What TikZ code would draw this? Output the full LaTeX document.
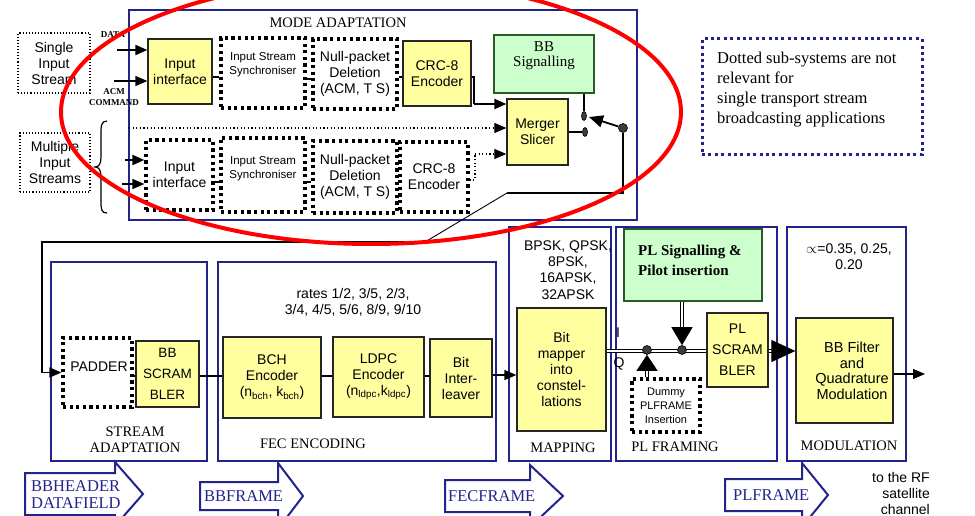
\documentclass[tikz,border=0pt]{standalone}
\usepackage{fontspec}
\setmainfont{Liberation Serif}
\newfontfamily\arialfont{Liberation Sans}
\usetikzlibrary{arrows.meta,shapes.geometric}

\definecolor{navy}{RGB}{35,35,140}
\definecolor{ylw}{RGB}{255,255,160}
\definecolor{grn}{RGB}{204,255,204}
\definecolor{gborder}{RGB}{40,90,40}
\definecolor{dotgray}{RGB}{60,60,60}

\begin{document}
\begin{tikzpicture}[x=1pt,y=-1pt,
  sans/.style={font=\arialfont\fontsize{14}{16}\selectfont, align=center, inner sep=0pt},
  sanssmall/.style={font=\arialfont\fontsize{11.5}{14}\selectfont, align=center, inner sep=0pt},
  lbl/.style={font=\fontsize{14.5}{16}\selectfont, align=center, inner sep=0pt},
  tinylbl/.style={font=\bfseries\fontsize{9}{11}\selectfont, align=center, inner sep=0pt},
  ybox/.style={draw=black!85, fill=ylw, line width=1.3pt, inner sep=0pt},
  gbox/.style={draw=gborder, fill=grn, line width=1.3pt, inner sep=0pt},
  dbox/.style={draw=black, line width=3.2pt, dash pattern=on 3.2pt off 3.4pt, inner sep=0pt},
  thindot/.style={draw=black, line width=1.1pt, dash pattern=on 1.1pt off 2pt, inner sep=0pt},
  finedot/.style={line width=1.1pt, dash pattern=on 1.1pt off 2.5pt},
  stage/.style={draw=navy, line width=1.5pt, inner sep=0pt},
  wire/.style={line width=1.3pt},
  arr/.style={-{Triangle[length=12pt,width=10pt]}},
  contact/.style={ellipse, fill=dotgray, draw=black, line width=0.6pt, minimum width=5pt, minimum height=9pt, inner sep=0pt},
  jdot/.style={circle, fill=dotgray, draw=black, line width=0.6pt, minimum size=9pt, inner sep=0pt},
  dbl/.style={draw=black, double=white, double distance=2.4pt, line width=1.1pt},
  blockarrow/.style={draw=navy, fill=white, line width=2pt, line join=miter},
  arrowtext/.style={text=navy, font=\fontsize{16.5}{17.5}\selectfont, align=left, inner sep=0pt, anchor=west}
]
\clip (0,0) rectangle (975,516);
\fill[white] (0,0) rectangle (975,516);

% ---------------- mode adaptation ----------------
\node[stage, minimum width=508pt, minimum height=210pt] (modebox) at (383,115) {};
\node[lbl] (modetitle) at (338,23) {MODE ADAPTATION};

\node[thindot, sans, minimum width=72pt, minimum height=60pt] (single) at (54,63) {Single\\Input\\Stream};
\node[thindot, sans, minimum width=70pt, minimum height=59pt] (multi) at (55,162.5) {Multiple\\Input\\Streams};

\node[tinylbl] (datalbl) at (113,35) {DATA};
\node[tinylbl] (acmlbl) at (114,97) {ACM\\COMMAND};

% single stream chain
\node[ybox, sans, minimum width=64pt, minimum height=65pt] (in1) at (180,71.5) {Input\\interface};
\node[dbox, minimum width=84pt, minimum height=70pt] (sync1) at (263,73) {};
\node[sanssmall] (sync1t) at (263,65) {Input Stream\\Synchroniser};
\node[dbox, sans, minimum width=84pt, minimum height=70pt] (null1) at (355,74) {Null-packet\\Deletion\\(ACM, T S)};
\node[ybox, sans, minimum width=68pt, minimum height=65pt] (crc1) at (437,73.5) {CRC-8\\Encoder};
\node[gbox, minimum width=100pt, minimum height=58pt] (bbsig) at (544,64) {};
\node[lbl, font=\fontsize{15}{15}\selectfont] (bbsigt) at (544,56) {BB\\Signalling};
\node[ybox, sans, minimum width=61pt, minimum height=66pt] (merger) at (537.5,132) {Merger\\Slicer};

% multiple stream chain
\node[dbox, sans, minimum width=67pt, minimum height=70pt] (in2) at (179.5,175) {Input\\interface};
\node[dbox, minimum width=84pt, minimum height=74pt] (sync2) at (263,175) {};
\node[sanssmall] (sync2t) at (263,169) {Input Stream\\Synchroniser};
\node[dbox, sans, minimum width=84pt, minimum height=72pt] (null2) at (355,177) {Null-packet\\Deletion\\(ACM, T S)};
\node[dbox, sans, minimum width=68pt, minimum height=70pt] (crc2) at (434,177) {CRC-8\\Encoder};

% input arrows
\coordinate (datain) at (117,50);
\coordinate (acmin) at (114,81);
\coordinate (mul1) at (125,160);
\coordinate (mul2) at (122,184);
\draw[line width=2pt, arr] (datain) -- (in1.west |- datain);
\draw[wire, arr] (acmin) -- (in1.west |- acmin);
\draw[line width=2pt, arr] (mul1) -- (in2.west |- mul1);
\draw[wire, arr] (mul2) -- (in2.west |- mul2);

% brace grouping the multiple inputs
\draw[line width=1.2pt] (107,121) .. controls (101,121) and (101,126) .. (101,135) -- (101,157)
  .. controls (101,164) and (99,167) .. (95,167) .. controls (99,167) and (101,170) .. (101,177)
  -- (101,200) .. controls (101,209) and (101,213) .. (107,213);

% chain links
\coordinate (yA) at (0,77);
\coordinate (yA2) at (0,79);
\coordinate (yL) at (0,182);
\draw[wire] (in1.east |- yA) -- (sync1.west |- yA);
\draw[wire] (sync1.east |- yA2) -- (null1.west |- yA2);
\draw[wire] (null1.east |- yA) -- (crc1.west |- yA);
\draw[wire] (in2.east |- yL) -- (sync2.west |- yL);
\draw[wire] (sync2.east |- yL) -- (null2.west |- yL);
\draw[wire] (null2.east |- yL) -- (crc2.west |- yL);

% merger inputs
\coordinate (crcknee) at (474,104);
\coordinate (sepL) at (129,128);
\coordinate (yC) at (0,180);
\coordinate (crc2knee) at (475,154);
\draw[line width=2pt] (crc1.east |- yA) -| (crcknee);
\draw[line width=2pt, arr] (crcknee) -- (merger.west |- crcknee);
\draw[finedot, arr] (sepL) -- (merger.west |- sepL);
\draw[finedot] (crc2.east |- yC) -| (crc2knee);
\draw[finedot, arr] (crc2knee) -- (merger.west |- crc2knee);

% output switch
\node[contact] (c1) at (585,132) {};
\node[contact] (c2) at (584,116) {};
\node[jdot] (piv) at (623,128) {};
\coordinate (swtip) at (589,117);
\draw[wire] (merger.east |- c1) -- (c1);
\draw[wire] (bbsig.south -| c2) -- (c2);
\draw[line width=1.8pt, -{Triangle[length=14pt,width=12pt]}] (piv) -- (swtip);

% feed to the stream adaptation
\coordinate (k1) at (623,193);
\coordinate (k2) at (507,193);
\coordinate (k3) at (425,242);
\coordinate (k4) at (42,242);
\draw[line width=2pt] (piv) -- (k1) -- (k2);
\draw[line width=0.9pt] (k2) -- (k3);

% note
\node[draw=navy, line width=3pt, dash pattern=on 3pt off 3.4pt, minimum width=220pt, minimum height=116pt] (note) at (812,97) {};
\node[font=\fontsize{16.5}{20}\selectfont, align=left, anchor=west, inner sep=0pt] (notet) at (717,90)
  {Dotted sub-systems are not\\relevant for\\single transport stream\\broadcasting applications};

% ---------------- lower chain ----------------
\node[stage, minimum width=156pt, minimum height=199pt] (sabox) at (129,361.5) {};
\node[stage, minimum width=278pt, minimum height=199pt] (fecbox) at (357,361.5) {};
\node[stage, minimum width=102pt, minimum height=234pt] (mapbox) at (560,344) {};
\node[stage, minimum width=161pt, minimum height=234pt] (plfbox) at (696.5,344) {};
\node[stage, minimum width=119pt, minimum height=234pt] (modbox) at (846.5,344) {};

\node[lbl] (satitle) at (135,440) {STREAM\\ADAPTATION};
\node[lbl] (fectitle) at (313,444) {FEC ENCODING};
\node[lbl] (maptitle) at (563,448) {MAPPING};
\node[lbl] (plftitle) at (675,447) {PL FRAMING};
\node[lbl] (modtitle) at (849,446) {MODULATION};

\node[dbox, minimum width=69pt, minimum height=69pt] (padder) at (97.5,372.5) {};
\node[sans] (paddert) at (99,367) {PADDER};
\node[ybox, minimum width=63pt, minimum height=66pt, font=\arialfont\fontsize{13.5}{21}\selectfont, align=center] (bbscr) at (167.5,374) {BB\\SCRAM\\BLER};
\node[ybox, sans, minimum width=98pt, minimum height=81pt] (bch) at (272,377.5) {BCH\\Encoder\\(n\textsubscript{bch}, k\textsubscript{bch})};
\node[ybox, sans, minimum width=91pt, minimum height=80pt] (ldpc) at (378.5,377) {LDPC\\Encoder\\(n\textsubscript{ldpc},k\textsubscript{ldpc})};
\node[ybox, sans, minimum width=62pt, minimum height=78pt] (bil) at (461,378) {Bit\\Inter-\\leaver};
\node[ybox, sans, minimum width=89pt, minimum height=123pt] (mapper) at (561.5,369.5) {Bit\\mapper\\into\\constel-\\lations};
\node[gbox, minimum width=138pt, minimum height=72pt] (plsig) at (693,265) {};
\node[font=\bfseries\fontsize{15}{20}\selectfont, align=left, anchor=west, inner sep=0pt] (plsigt) at (638,260) {PL Signalling \&\\Pilot insertion};
\node[ybox, minimum width=61pt, minimum height=74pt, font=\arialfont\fontsize{14}{21}\selectfont, align=center] (plscr) at (737.5,350) {PL\\SCRAM\\BLER};
\node[dbox, minimum width=68pt, minimum height=53pt, font=\arialfont\fontsize{11}{14}\selectfont, align=center] (dummy) at (666,405.5) {Dummy\\PLFRAME\\Insertion};
\node[ybox, minimum width=97pt, minimum height=105pt] (bbf) at (844.5,370.5) {};
\node[sans, font=\arialfont\fontsize{14.5}{15.5}\selectfont] (bbft) at (852,371) {BB Filter\\and\\Quadrature\\Modulation};

\node[sans] (ratest) at (353,302) {rates 1/2, 3/5, 2/3,\\3/4, 4/5, 5/6, 8/9, 9/10};
\node[sans, font=\arialfont\fontsize{14}{16.3}\selectfont] (constt) at (568,270) {BPSK, QPSK,\\8PSK,\\16APSK,\\32APSK};
\node[sans] (rolloff) at (849,257) {$\propto$=0.35, 0.25,\\0.20};
\node[sans] (ilbl) at (618,333) {I};
\node[sans] (qlbl) at (619,364) {Q};
\node[sans, align=right, anchor=east] (rft) at (930,493) {to the RF\\satellite\\channel};

% links of the lower chain
\coordinate (yM) at (0,376);
\coordinate (yM2) at (0,375);
\coordinate (yIQ) at (0,351);
\coordinate (rfout) at (925,374);
\draw[line width=1.6pt, arr] (k3) -- (k4) |- (padder.west);
\draw[wire] (padder.east |- yM) -- (bbscr.west |- yM);
\draw[wire] (bbscr.east |- yM) -- (bch.west |- yM);
\draw[wire] (bch.east |- yM) -- (ldpc.west |- yM);
\draw[wire] (ldpc.east |- yM) -- (bil.west |- yM);
\draw[wire, arr] (bil.east |- yM2) -- (mapper.west |- yM2);

\draw[dbl] (mapper.east |- yIQ) -- (plscr.west |- yIQ);
\node[jdot] (j1) at (647,350) {};
\node[jdot] (j2) at (682,350) {};
\draw[dbl, -{Triangle[length=16pt,width=21pt]}] (dummy.north -| j1) -- (j1.south);
\draw[dbl, -{Triangle[length=18pt,width=21pt]}] (plsig.south -| j2) -- (j2.north);
\draw[dbl, -{Triangle[length=24pt,width=22pt]}] (plscr.east |- yIQ) -- (bbf.west |- yIQ);
\draw[wire, arr] (bbf.east |- rfout) -- (rfout);

% frame labels as block arrows
\draw[blockarrow] (25,473) -- (115,473) -- (115,462) -- (143,494) -- (115,526) -- (115,515) -- (25,515) -- cycle;
\node[arrowtext] (bbhdr) at (31,494.5) {BBHEADER\\DATAFIELD};
\draw[blockarrow] (200,482) -- (278,482) -- (278,463) -- (303,496) -- (278,529) -- (278,510) -- (200,510) -- cycle;
\node[arrowtext] (bbfr) at (204,496) {BBFRAME};
\draw[blockarrow] (445,480) -- (530,480) -- (530,465) -- (563,496) -- (530,527) -- (530,512) -- (445,512) -- cycle;
\node[arrowtext] (fecfr) at (448,496) {FECFRAME};
\draw[blockarrow] (725,479) -- (802,479) -- (802,463) -- (828,495) -- (802,527) -- (802,511) -- (725,511) -- cycle;
\node[arrowtext] (plfr) at (733,495) {PLFRAME};

% highlight ring round the mode adaptation
\draw[red, line width=4pt] (371,112) ellipse (310 and 132);
\end{tikzpicture}
\end{document}
